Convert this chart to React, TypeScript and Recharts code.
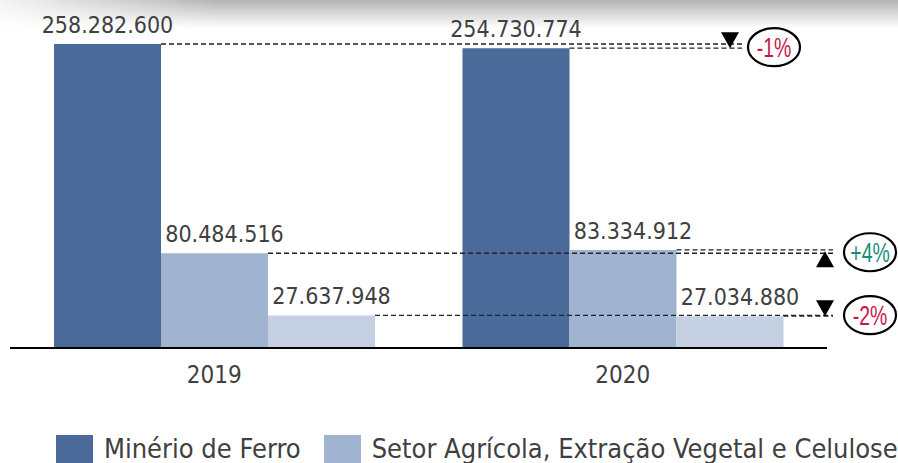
import React from 'react'
import { BarChart, Bar, XAxis, YAxis } from 'recharts'

const years = ['2019', '2020']
const minerioFerro = [258282600, 254730774]
const setorAgricola = [80484516, 83334912]
const terceiraSerie = [27637948, 27034880]
const legendNames = ['Minério de Ferro', 'Setor Agrícola, Extração Vegetal e Celulose']

const COLORS = ['#4a6a9a', '#a0b3d0', '#c4d0e2']
const FONT = '"DejaVu Sans Condensed", "DejaVu Sans", sans-serif'
const TEXT = '#404040'

const seriesValues = [minerioFerro, setorAgricola, terceiraSerie]
const seriesKeys = ['minerio', 'agricola', 'terceira']

const data = years.map((year, i) => ({
  year,
  minerio: minerioFerro[i],
  agricola: setorAgricola[i],
  terceira: terceiraSerie[i],
}))

// where the dashed guides, arrows and bubbles sit for each series
const ANNOT = [
  { endX: 742, arrowX: 730, bubbleX: 774, labelDx: 0 },
  { endX: 833, arrowX: 825, bubbleX: 870, labelDx: 10 },
  { endX: 833, arrowX: 825, bubbleX: 870, labelDx: 10 },
]

const fmt = (v: number) => String(Math.round(v)).replace(/\B(?=(\d{3})+(?!\d))/g, '.')

function makeLabel(s: number) {
  return (props: any) => {
    const { x, y, width, height, value } = props
    const vals = seriesValues[s]
    const i = vals.indexOf(value)
    const a = ANNOT[s]
    const right = x + width
    const cx = x + width / 2 + a.labelDx
    const isLast = i === vals.length - 1

    let extra = null
    if (isLast) {
      const prev = vals[i - 1]
      const bottom = y + height
      const yPrev = bottom - (height * prev) / value
      const lower = Math.max(y, yPrev)
      const change = ((value - prev) / prev) * 100
      const pct = Math.round(change)
      const up = change > 0
      const txt = (up ? '+' : '') + pct + '%'
      const ax = a.arrowX
      const arrow = up
        ? `M${ax},${lower - 2} L${ax + 9},${lower + 14} L${ax - 9},${lower + 14} Z`
        : `M${ax},${lower} L${ax + 9},${lower - 16} L${ax - 9},${lower - 16} Z`
      extra = (
        <g>
          <path d={arrow} fill="#000" />
          <ellipse cx={a.bubbleX} cy={lower - 1} rx={26} ry={19} fill="#fff" stroke="#000" strokeWidth={2.2} />
          {/* narrow the percent text so it sits inside the bubble */}
          <g transform={`translate(${a.bubbleX},${lower + 8.5}) scale(0.72,1)`}>
            <text
              x={0}
              y={0}
              textAnchor="middle"
              fontFamily='"Liberation Sans", Arial, sans-serif'
              fontSize={27}
              fill={up ? '#1a8c7c' : '#c8174a'}
            >
              {txt}
            </text>
          </g>
        </g>
      )
    }

    return (
      <g>
        <line x1={right} y1={y} x2={a.endX} y2={y} stroke="#222" strokeWidth={1.3} strokeDasharray="5 3" />
        <text x={cx} y={y - 11} textAnchor="middle" fontFamily={FONT} fontSize={23} fill={TEXT}>
          {fmt(value)}
        </text>
        {extra}
      </g>
    )
  }
}

export default function App() {
  return (
    <div style={{ position: 'fixed', left: 0, top: 0, width: 898, height: 463, background: '#fff', overflow: 'hidden' }}>
      <div
        style={{
          position: 'absolute',
          left: 0,
          top: 0,
          width: 898,
          height: 28,
          background: 'linear-gradient(to bottom, rgba(160,160,160,0.8), rgba(255,255,255,0))',
          WebkitMaskImage: 'linear-gradient(to right, rgba(0,0,0,0.15) 0px, #000 220px)',
          maskImage: 'linear-gradient(to right, rgba(0,0,0,0.15) 0px, #000 220px)',
        }}
      />
      <div style={{ position: 'absolute', left: 0, top: 0 }}>
        <BarChart
          width={898}
          height={463}
          data={data}
          margin={{ top: 44, right: 71, bottom: 75, left: 10 }}
          barCategoryGap={44}
          barGap={0}
        >
          <XAxis
            dataKey="year"
            height={40}
            tickLine={false}
            tickMargin={12}
            axisLine={{ stroke: '#000', strokeWidth: 2 }}
            tick={{ fontSize: 24, fill: TEXT, fontFamily: FONT }}
          />
          <YAxis hide domain={[0, 'dataMax']} />
          {seriesKeys.map((k, s) => (
            <Bar
              key={k}
              dataKey={k}
              fill={COLORS[s]}
              isAnimationActive={false}
              label={makeLabel(s)}
            />
          ))}
        </BarChart>
      </div>
      <div
        style={{
          position: 'absolute',
          left: 56,
          top: 433,
          display: 'flex',
          alignItems: 'center',
          fontFamily: FONT,
          fontSize: 27,
          color: TEXT,
          whiteSpace: 'nowrap',
        }}
      >
        {legendNames.map((name, i) => (
          <div key={name} style={{ display: 'flex', alignItems: 'center', marginRight: 23 }}>
            <span style={{ display: 'inline-block', width: 37, height: 28, background: COLORS[i], marginRight: 11 }} />
            <span>{name}</span>
          </div>
        ))}
      </div>
    </div>
  )
}
